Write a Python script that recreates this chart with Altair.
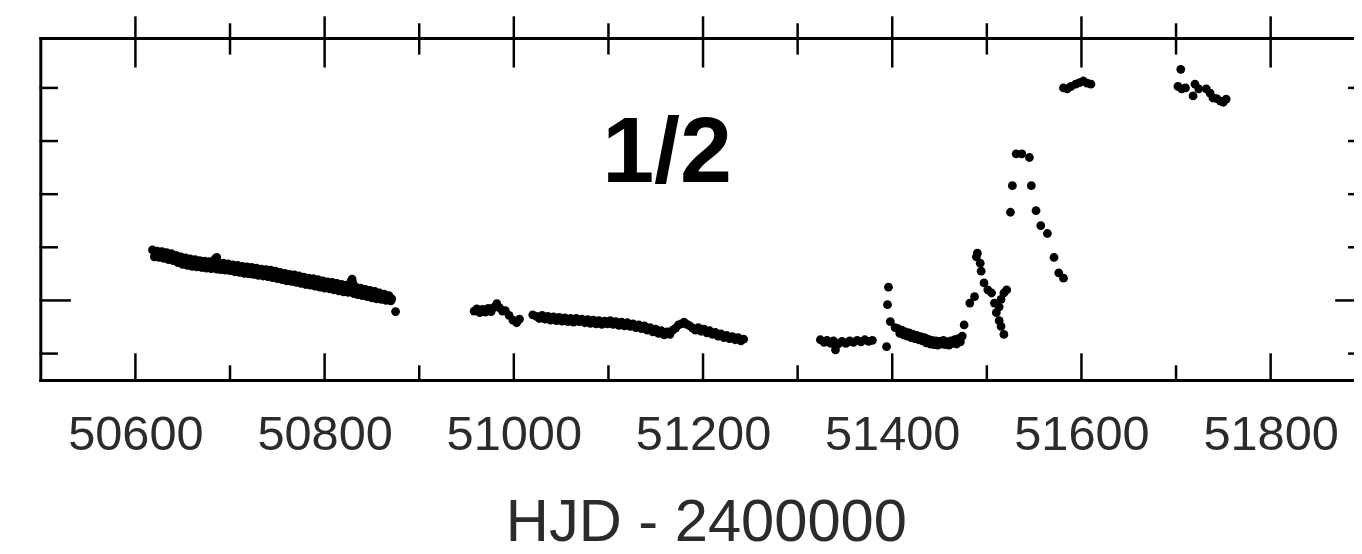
import altair as alt
import pandas as pd

# ---------------- data ----------------
# HJD - 2400000 and relative brightness (arbitrary units, unlabeled axis)
SEG1_HJD = [50618, 50620, 50621, 50623, 50625, 50626, 50628, 50630, 50631,
            50633, 50635, 50636, 50638, 50640, 50641, 50643, 50645, 50646,
            50648, 50650, 50651, 50653, 50655, 50656, 50658, 50660, 50661,
            50663, 50665, 50666, 50668, 50670, 50671, 50673, 50675, 50676,
            50678, 50680, 50681, 50684, 50686, 50687, 50686, 50688, 50690,
            50691, 50693, 50695, 50696, 50698, 50700, 50701, 50703, 50705,
            50706, 50708, 50710, 50711, 50713, 50715, 50716, 50718, 50720,
            50721, 50723, 50725, 50726, 50728, 50730, 50731, 50733, 50735,
            50736, 50738, 50740, 50741, 50743, 50745, 50746, 50748, 50750,
            50751, 50753, 50755, 50756, 50758, 50760, 50761, 50763, 50765,
            50766, 50768, 50770, 50771, 50773, 50775, 50776, 50778, 50780,
            50781, 50783, 50785, 50786, 50788, 50790, 50791, 50793, 50795,
            50796, 50798, 50800, 50801, 50803, 50805, 50806, 50808, 50810,
            50811, 50813, 50815, 50816, 50818, 50820, 50821, 50823, 50825,
            50826, 50828, 50829, 50830, 50831, 50833, 50835, 50836, 50838,
            50840, 50841, 50843, 50845, 50846, 50848, 50850, 50851, 50853,
            50855, 50856, 50858, 50860, 50861, 50863, 50865, 50866, 50868,
            50870, 50871, 50875]
SEG1_VAL = [1.95, 1.82, 1.89, 1.93, 1.81, 1.87, 1.92, 1.79, 1.86,
            1.90, 1.77, 1.84, 1.88, 1.75, 1.81, 1.85, 1.71, 1.79,
            1.82, 1.68, 1.75, 1.80, 1.66, 1.72, 1.78, 1.64, 1.70,
            1.77, 1.63, 1.69, 1.75, 1.62, 1.68, 1.74, 1.61, 1.67,
            1.73, 1.60, 1.66, 1.78, 1.81, 1.65, 1.59, 1.71, 1.58,
            1.64, 1.70, 1.57, 1.63, 1.69, 1.56, 1.61, 1.67, 1.54,
            1.60, 1.66, 1.53, 1.59, 1.64, 1.51, 1.57, 1.63, 1.50,
            1.56, 1.62, 1.49, 1.55, 1.61, 1.47, 1.53, 1.59, 1.46,
            1.52, 1.58, 1.45, 1.51, 1.57, 1.43, 1.49, 1.55, 1.41,
            1.47, 1.53, 1.39, 1.45, 1.51, 1.37, 1.44, 1.49, 1.36,
            1.42, 1.48, 1.34, 1.40, 1.46, 1.32, 1.38, 1.44, 1.30,
            1.37, 1.42, 1.29, 1.35, 1.41, 1.27, 1.33, 1.39, 1.25,
            1.31, 1.37, 1.23, 1.30, 1.35, 1.22, 1.28, 1.34, 1.20,
            1.26, 1.32, 1.18, 1.24, 1.30, 1.16, 1.22, 1.29, 1.15,
            1.21, 1.36, 1.40, 1.32, 1.13, 1.25, 1.11, 1.17, 1.23,
            1.09, 1.15, 1.21, 1.07, 1.13, 1.19, 1.05, 1.11, 1.17,
            1.03, 1.09, 1.14, 1.02, 1.07, 1.12, 1.00, 1.05, 1.09,
            0.99, 1.03, 0.79]

SEG2_HJD = [50958, 50961, 50964, 50967, 50970, 50973, 50976, 50979, 50982, 50985,
            50988, 50991, 50995, 50999, 51003, 51006,
            51020, 51024, 51027, 51030, 51033, 51036, 51039, 51042, 51045, 51048,
            51051, 51054, 51057, 51060, 51063, 51066, 51069, 51072, 51075, 51078,
            51081, 51084, 51087, 51090, 51093, 51096, 51099, 51102, 51105, 51108,
            51111, 51114, 51117, 51120, 51123, 51126, 51129, 51132, 51135, 51138,
            51141, 51144, 51147, 51150, 51153, 51156, 51159, 51162, 51165, 51168,
            51171, 51174, 51177, 51180, 51183, 51186, 51189, 51192, 51195, 51198,
            51201, 51204, 51207, 51210, 51213, 51216, 51219, 51222, 51225, 51228,
            51231, 51234, 51237, 51240, 51243]
SEG2_VAL = [0.80, 0.84, 0.77, 0.83, 0.78, 0.85, 0.79, 0.87, 0.94, 0.86,
            0.80, 0.81, 0.72, 0.63, 0.58, 0.65,
            0.73, 0.70, 0.66, 0.72, 0.65, 0.70, 0.63, 0.69, 0.62, 0.68,
            0.61, 0.67, 0.60, 0.66, 0.59, 0.66, 0.60, 0.65, 0.58, 0.64,
            0.57, 0.63, 0.56, 0.62, 0.55, 0.61, 0.56, 0.62, 0.55, 0.60,
            0.53, 0.59, 0.52, 0.58, 0.51, 0.56, 0.49, 0.54, 0.47, 0.52,
            0.44, 0.49, 0.41, 0.46, 0.38, 0.43, 0.35, 0.41, 0.36, 0.44,
            0.48, 0.54, 0.56, 0.59, 0.55, 0.52, 0.48, 0.44, 0.49, 0.42,
            0.46, 0.39, 0.43, 0.36, 0.40, 0.33, 0.37, 0.30, 0.34, 0.28,
            0.32, 0.26, 0.30, 0.24, 0.27]

SEG3_HJD = [51324, 51328, 51331, 51335, 51338, 51340, 51343, 51347, 51351, 51355,
            51359, 51363, 51367, 51371, 51375, 51379]
SEG3_VAL = [0.26, 0.21, 0.25, 0.19, 0.24, 0.07, 0.18, 0.23, 0.19, 0.24,
            0.21, 0.25, 0.22, 0.26, 0.23, 0.25]

SEG4_HJD = [51396, 51395, 51398, 51403, 51394,
            51406, 51408, 51410, 51412, 51414, 51416, 51418, 51420, 51422, 51424,
            51426, 51428, 51430, 51432, 51434, 51436, 51438, 51440, 51442, 51444,
            51446, 51448, 51450, 51452, 51454, 51456, 51458, 51460, 51462, 51464,
            51466, 51468, 51470, 51472, 51474, 51476,
            51482, 51487, 51489, 51490, 51493,
            51494, 51497, 51501, 51505, 51508, 51510, 51513, 51515, 51518,
            51513, 51515, 51518, 51521]
SEG4_VAL = [1.25, 0.92, 0.60, 0.49, 0.13,
            0.47, 0.38, 0.44, 0.35, 0.41, 0.33, 0.39, 0.30, 0.36, 0.28,
            0.34, 0.26, 0.32, 0.24, 0.30, 0.20, 0.27, 0.18, 0.25, 0.17,
            0.24, 0.16, 0.23, 0.18, 0.25, 0.17, 0.22, 0.16, 0.24, 0.19,
            0.26, 0.18, 0.28, 0.22, 0.33, 0.54,
            0.95, 1.07, 1.82, 1.89, 1.70,
            1.55, 1.33, 1.20, 1.14, 0.95, 0.77, 0.62, 0.51, 0.36,
            0.88, 1.02, 1.14, 1.20]

SEG5_HJD = [51525, 51527, 51531, 51537, 51545, 51547, 51552, 51557, 51564, 51571,
            51576, 51581]
SEG5_VAL = [2.66, 3.16, 3.76, 3.76, 3.69, 3.16, 2.69, 2.41, 2.26, 1.81,
            1.52, 1.42]

SEG6_HJD = [51581, 51585, 51589, 51594, 51598, 51602, 51606, 51610]
SEG6_VAL = [5.00, 4.98, 5.03, 5.07, 5.10, 5.13, 5.09, 5.07]

SEG7_HJD = [51705, 51702, 51706, 51710, 51718, 51720, 51724, 51732, 51736, 51739,
            51743, 51747, 51750, 51753]
SEG7_VAL = [5.35, 5.03, 4.98, 5.00, 4.85, 5.07, 4.98, 4.98, 4.90, 4.81,
            4.80, 4.75, 4.73, 4.79]

X_LABELS = [50600, 50800, 51000, 51200, 51400, 51600, 51800]
X_MAJOR = [50600, 50800, 51000, 51200, 51400, 51600, 51800]
X_MINOR = [50700, 50900, 51100, 51300, 51500, 51700]
Y_MAJOR = [1]
Y_MINOR = [0, 2, 3, 4, 5]

ANNOT_TEXT = ["1/2"]
ANNOT_X = [51162]
ANNOT_Y = [3.22]

# ---------------- layout ----------------
PLOT_W, PLOT_H = 1321, 344
X_MIN, X_VIEW_MAX, X_FRAME_MAX = 50500, 51888.1, 51900
Y_MIN, Y_MAX = -0.505, 5.931
DX = (X_VIEW_MAX - X_MIN) / PLOT_W   # data units per pixel
DY = (Y_MAX - Y_MIN) / PLOT_H

hjd = SEG1_HJD + SEG2_HJD + SEG3_HJD + SEG4_HJD + SEG5_HJD + SEG6_HJD + SEG7_HJD
val = SEG1_VAL + SEG2_VAL + SEG3_VAL + SEG4_VAL + SEG5_VAL + SEG6_VAL + SEG7_VAL
points = pd.DataFrame({"hjd": hjd, "val": val})

rows = []


def add(x0, x1, y0, y1, w):
    rows.append({"x0": x0, "x1": x1, "y0": y0, "y1": y1, "w": w})


# frame (right side lies beyond the cut edge)
add(X_MIN, X_FRAME_MAX, Y_MAX, Y_MAX, 3)
add(X_MIN, X_FRAME_MAX, Y_MIN, Y_MIN, 3)
add(X_MIN, X_MIN, Y_MIN, Y_MAX, 3)
add(X_FRAME_MAX, X_FRAME_MAX, Y_MIN, Y_MAX, 3)
for t in X_MAJOR:
    add(t, t, Y_MIN, Y_MIN + 26 * DY, 2.5)
    add(t, t, Y_MAX - 28 * DY, Y_MAX + 21 * DY, 2.5)
for t in X_MINOR:
    add(t, t, Y_MIN, Y_MIN + 14 * DY, 2.5)
    add(t, t, Y_MAX - 15 * DY, Y_MAX + 14 * DY, 2.5)
for t in Y_MAJOR:
    add(X_MIN, X_MIN + 29 * DX, t, t, 2.5)
    add(X_FRAME_MAX - 29 * DX, X_FRAME_MAX, t, t, 2.5)
for t in Y_MINOR:
    add(X_MIN, X_MIN + 16 * DX, t, t, 2.5)
    add(X_FRAME_MAX - 16 * DX, X_FRAME_MAX, t, t, 2.5)
rules = pd.DataFrame(rows)

xs = alt.Scale(domain=[X_MIN, X_VIEW_MAX], nice=False, zero=False)
ys = alt.Scale(domain=[Y_MIN, Y_MAX], nice=False, zero=False)

FONT = "Liberation Sans"

x_axis = alt.Axis(
    values=X_LABELS, format="d", ticks=False, tickSize=0, domain=False,
    grid=False, labelFont=FONT, labelFontSize=49, labelColor="#2b2b2b",
    labelPadding=31, labelFlush=False, labelOverlap=False,
    title="HJD - 2400000", titleFont=FONT, titleFontSize=60,
    titleFontWeight="normal", titleColor="#2b2b2b",
    titleX=669, titleY=161, titleAlign="center", titleBaseline="alphabetic")

pts = alt.Chart(points).mark_circle(size=78, color="black", opacity=1).encode(
    x=alt.X("hjd:Q", scale=xs, axis=x_axis, title="HJD - 2400000"),
    y=alt.Y("val:Q", scale=ys, axis=None),
)

frame = alt.Chart(rules).mark_rule(color="black", strokeCap="square").encode(
    x=alt.X("x0:Q", scale=xs, title="HJD - 2400000"),
    x2="x1:Q",
    y=alt.Y("y0:Q", scale=ys, axis=None),
    y2="y1:Q",
    strokeWidth=alt.StrokeWidth("w:Q", scale=None),
)

annot = alt.Chart(pd.DataFrame({"t": ANNOT_TEXT, "x": ANNOT_X, "y": ANNOT_Y})).mark_text(
    font=FONT, fontSize=94, fontWeight="bold", color="black",
    align="center", baseline="alphabetic").encode(
    x=alt.X("x:Q", scale=xs, title="HJD - 2400000"),
    y=alt.Y("y:Q", scale=ys, axis=None),
    text="t:N",
)

chart = alt.layer(pts, frame, annot).properties(
    width=PLOT_W, height=PLOT_H,
    autosize=alt.AutoSizeParams(type="none"),
    padding={"left": 33, "top": 29, "right": 0, "bottom": 173},
).configure_view(stroke=None).configure(background="white")

chart.save("out.html", embed_options={"renderer": "svg", "actions": False})
